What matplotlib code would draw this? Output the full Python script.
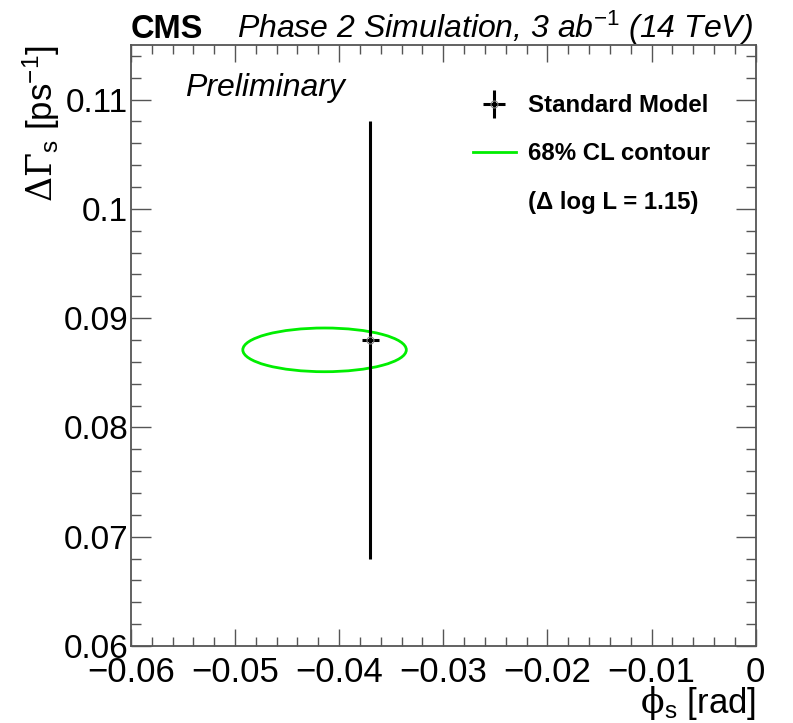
import matplotlib

matplotlib.use("Agg")
import matplotlib.pyplot as plt
from matplotlib.legend_handler import HandlerErrorbar
from matplotlib.lines import Line2D
from matplotlib.patches import Ellipse
from matplotlib.ticker import FixedLocator, FixedFormatter, MultipleLocator

plt.rcParams["font.family"] = ["Liberation Sans", "DejaVu Sans"]
plt.rcParams["mathtext.fontset"] = "custom"
plt.rcParams["mathtext.rm"] = "Liberation Sans"
plt.rcParams["mathtext.it"] = "Liberation Sans:italic"
plt.rcParams["mathtext.bf"] = "Liberation Sans:bold"
plt.rcParams["mathtext.sf"] = "DejaVu Serif"

# Standard Model point with its uncertainties
sm_phi = -0.037
sm_dgamma = 0.088
sm_phi_err = 0.0008
sm_dgamma_err = 0.020

# 68% CL contour, drawn as an ellipse
contour_center = (-0.0414, 0.0871)
contour_width = 0.0157
contour_height = 0.0040

x_ticks = [-0.06, -0.05, -0.04, -0.03, -0.02, -0.01, 0.0]
x_tick_labels = ["\u22120.06", "\u22120.05", "\u22120.04", "\u22120.03",
                 "\u22120.02", "\u22120.01", "0"]
y_ticks = [0.06, 0.07, 0.08, 0.09, 0.10, 0.11]
y_tick_labels = ["0.06", "0.07", "0.08", "0.09", "0.1", "0.11"]

frame_col = "#555555"

fig = plt.figure(figsize=(7.93, 7.23), dpi=100)
ax = fig.add_axes([0.165, 0.1065, 0.788, 0.8313])

ax.add_patch(Ellipse(contour_center, contour_width, contour_height,
                     fill=False, edgecolor="#00ee00", lw=2.0, zorder=2))
sm = ax.errorbar([sm_phi], [sm_dgamma], xerr=[sm_phi_err], yerr=[sm_dgamma_err],
                 fmt="o", ms=5, mfc="none", mec="#888888", mew=0.8,
                 ecolor="black", elinewidth=2.2, capsize=0, zorder=3)

ax.set_xlim(-0.06, 0.0)
ax.set_ylim(0.06, 0.115)

ax.xaxis.set_major_locator(FixedLocator(x_ticks))
ax.xaxis.set_major_formatter(FixedFormatter(x_tick_labels))
ax.yaxis.set_major_locator(FixedLocator(y_ticks))
ax.yaxis.set_major_formatter(FixedFormatter(y_tick_labels))
ax.xaxis.set_minor_locator(MultipleLocator(0.002))
ax.yaxis.set_minor_locator(MultipleLocator(0.002))

for s in ax.spines.values():
    s.set_color(frame_col)
    s.set_linewidth(1.3)
ax.tick_params(which="both", direction="in", top=True, right=True,
               color=frame_col, width=1.0)
ax.tick_params(axis="x", which="major", length=12.5, pad=7, labelsize=25)
ax.tick_params(axis="x", which="minor", length=6.2)
ax.tick_params(axis="y", which="major", length=14.4, pad=2, labelsize=24)
ax.tick_params(axis="y", which="minor", length=7.2)

ax.set_xlabel(r"$\mathsf{\phi}_{\mathrm{s}}$ [rad]", fontsize=25, loc="right")
ax.xaxis.set_label_coords(1.0, -0.064)
ax.set_ylabel(r"$\mathsf{\Delta\Gamma}_{\mathrm{s}}$ [ps$^{-1}$]", fontsize=25, loc="top")
ax.yaxis.set_label_coords(-0.11, 1.0)

ax.text(0.0, 1.012, "CMS", transform=ax.transAxes, fontsize=23.5,
        fontweight="bold", ha="left", va="baseline")
ax.text(0.995, 1.012, r"Phase 2 Simulation, 3 ab$^{\mathit{-1}}$ (14 TeV)",
        transform=ax.transAxes, fontsize=23, style="italic",
        ha="right", va="baseline")
ax.text(0.086, 0.915, "Preliminary", transform=ax.transAxes, fontsize=23,
        style="italic", ha="left", va="baseline")

contour_handle = Line2D([], [], color="#00ee00", lw=2.0)
blank_handle = Line2D([], [], color="none")
leg = ax.legend([sm, contour_handle, blank_handle],
                ["Standard Model", "68% CL contour", "(\u0394 log L = 1.15)"],
                loc="upper left", bbox_to_anchor=(0.547, 0.918),
                frameon=False, borderpad=0, borderaxespad=0,
                handlelength=1.8, handletextpad=0.5, labelspacing=1.05,
                prop={"weight": "bold", "size": 17.3},
                handler_map={type(sm): HandlerErrorbar(xerr_size=0.45, yerr_size=0.57)})

fig.savefig("out.png", dpi=100, facecolor="white")
